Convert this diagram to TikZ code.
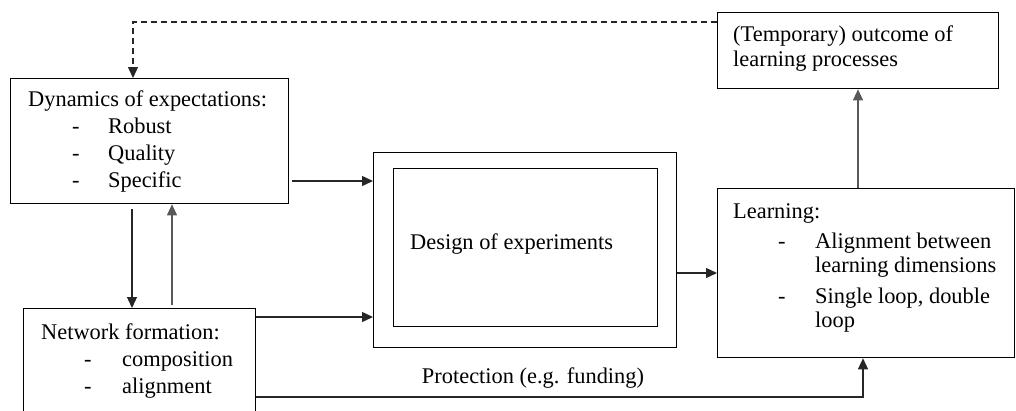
\documentclass[tikz,border=0pt]{standalone}
\usepackage{fontspec}
\setmainfont{Liberation Serif}
\usetikzlibrary{arrows.meta}
\begin{document}
\begin{tikzpicture}[x=1pt,y=-1pt,
  box/.style={draw, line width=1.3pt, anchor=north west, inner sep=0pt},
  txt/.style={anchor=base west, inner sep=0pt, align=left, font=\fontsize{22.4}{27}\selectfont},
  arr/.style={line width=1.3pt, draw=black!85, -{Triangle[length=11pt,width=10pt]}},
  dash line/.style={dash pattern=on 6pt off 4pt},
]
\useasboundingbox (0,0) rectangle (1016,410);
\clip (0,0) rectangle (1016,410);

% boxes
\node[box, minimum width=278, minimum height=125] (dyn) at (10,78) {};
\node[box, minimum width=232, minimum height=130] (net) at (23,308) {};
\node[box, minimum width=303, minimum height=195] (outer) at (373,152) {};
\node[box, minimum width=264, minimum height=158] (inner) at (393,168) {};
\node[box, minimum width=297, minimum height=169] (learn) at (717,188) {};
\node[box, minimum width=281, minimum height=76] (out) at (717,12) {};

% texts (anchored at the baseline of their last line)
\node[txt] (dynt) at (28,187) {Dynamics of expectations:\\
  \makebox[80pt][l]{\hspace*{44pt}-}Robust\\
  \makebox[80pt][l]{\hspace*{44pt}-}Quality\\
  \makebox[80pt][l]{\hspace*{44pt}-}Specific};
\node[txt] (nett) at (41,393) {Network formation:\\
  \makebox[81pt][l]{\hspace*{43pt}-}composition\\
  \makebox[81pt][l]{\hspace*{43pt}-}alignment};
\node[txt] (innt) at (410,249) {Design of experiments};
\node[txt, anchor=base] (prot) at (533,383) {Protection (e.g. funding)};
\node[txt, font=\fontsize{22.4}{24}\selectfont] (learnt) at (733,327) {Learning:\\[6pt]
  \makebox[82pt][l]{\hspace*{45pt}-}Alignment between\\
  \hspace*{82pt}learning dimensions\\[7pt]
  \makebox[82pt][l]{\hspace*{45pt}-}Single loop, double\\
  \hspace*{82pt}loop};
\node[txt, font=\fontsize{22.4}{25}\selectfont] (outt) at (733,66) {(Temporary) outcome of\\ learning processes};

% helper coordinates
\coordinate (x132) at (132,0);
\coordinate (x172) at (172,0);
\coordinate (x133) at (133,0);
\coordinate (x858) at (858,0);
\coordinate (x863) at (863,0);
\coordinate (y22) at (0,22);
\coordinate (y181) at (0,181);
\coordinate (y317) at (0,317);
\coordinate (y273) at (0,273);
\coordinate (y397) at (0,397);

% connectors
\draw[arr, dash line] (out.west |- y22) -| (dyn.north -| x133);
\draw[arr, shorten <=5pt] (dyn.south -| x132) -- (net.north -| x132);
\draw[arr, draw=black!65, shorten <=3pt] (net.north -| x172) -- (dyn.south -| x172);
\draw[arr, shorten <=3pt] (dyn.east |- y181) -- (outer.west |- y181);
\draw[arr] (net.east |- y317) -- (outer.west |- y317);
\draw[arr] (outer.east |- y273) -- (learn.west |- y273);
\draw[arr, draw=black!65] (learn.north -| x858) -- (out.south -| x858);
\draw[arr] (net.east |- y397) -| (learn.south -| x863);
\end{tikzpicture}
\end{document}
